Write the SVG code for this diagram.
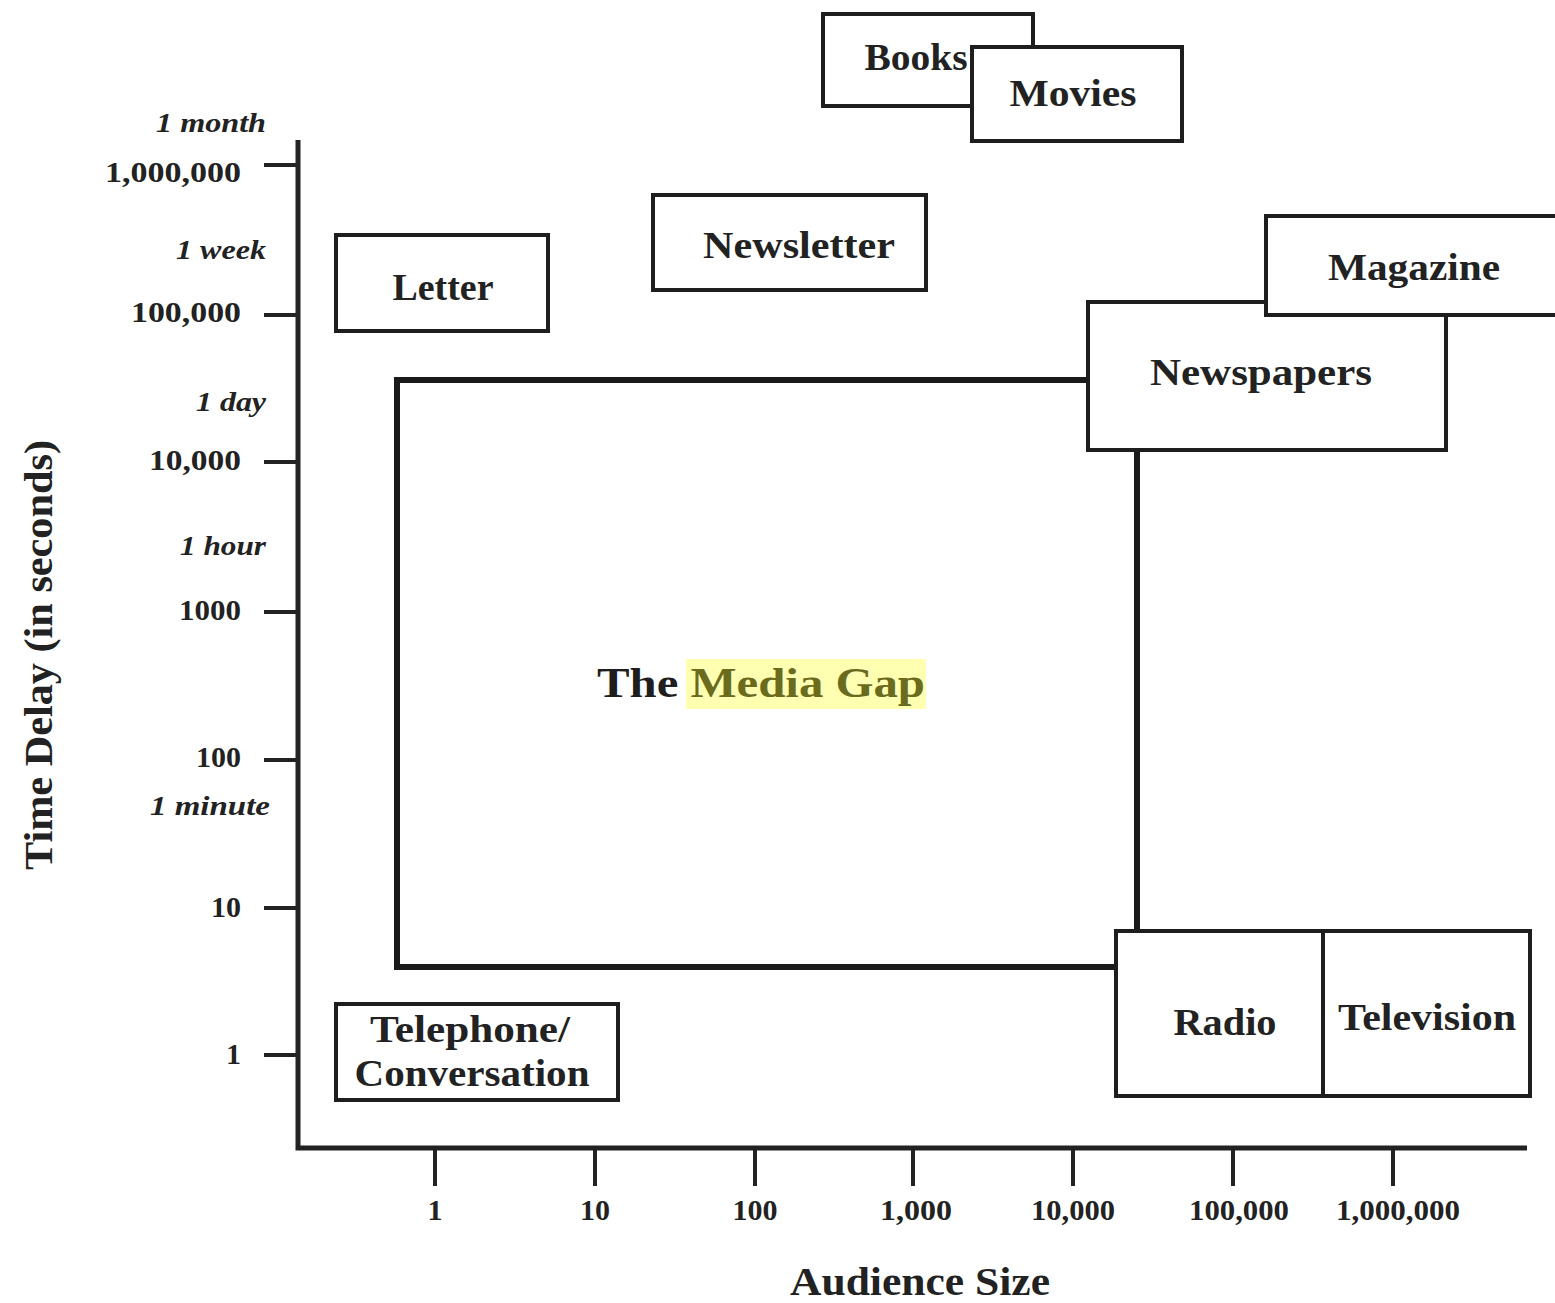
<svg xmlns="http://www.w3.org/2000/svg" width="1555" height="1303" viewBox="0 0 1555 1303">
<style>
.box{fill:#fff;stroke:#1e1e1e;stroke-width:4}
.lbl{font-family:"Liberation Serif","DejaVu Serif",serif;font-weight:bold;font-size:37px;fill:#222;text-anchor:middle}
.tick{stroke:#222;stroke-width:4}
.num{font-family:"Liberation Serif","DejaVu Serif",serif;font-weight:bold;font-size:30px;fill:#222}
.it{font-family:"Liberation Serif","DejaVu Serif",serif;font-weight:bold;font-style:italic;font-size:28px;fill:#222;text-anchor:end}
.ax{font-family:"Liberation Serif","DejaVu Serif",serif;font-weight:bold;font-size:40px;fill:#222;text-anchor:middle}
</style>
<rect width="1555" height="1303" fill="#fff"/>
<g id="axes">
<path d="M298 140 V1148 H1527" fill="none" stroke="#222" stroke-width="5"/>
<g class="tick">
<line x1="264" y1="165" x2="298" y2="165"/>
<line x1="264" y1="315" x2="298" y2="315"/>
<line x1="264" y1="462" x2="298" y2="462"/>
<line x1="264" y1="612" x2="298" y2="612"/>
<line x1="264" y1="760" x2="298" y2="760"/>
<line x1="264" y1="908" x2="298" y2="908"/>
<line x1="264" y1="1055" x2="298" y2="1055"/>
<line x1="435" y1="1148" x2="435" y2="1186"/>
<line x1="595" y1="1148" x2="595" y2="1186"/>
<line x1="755" y1="1148" x2="755" y2="1186"/>
<line x1="913" y1="1148" x2="913" y2="1186"/>
<line x1="1073" y1="1148" x2="1073" y2="1186"/>
<line x1="1233" y1="1148" x2="1233" y2="1186"/>
<line x1="1393" y1="1148" x2="1393" y2="1186"/>
</g>
<g class="num" text-anchor="end">
<text x="241" y="182" textLength="136" lengthAdjust="spacingAndGlyphs">1,000,000</text>
<text x="241" y="322" textLength="110" lengthAdjust="spacingAndGlyphs">100,000</text>
<text x="241" y="470" textLength="92" lengthAdjust="spacingAndGlyphs">10,000</text>
<text x="241" y="620" textLength="62" lengthAdjust="spacingAndGlyphs">1000</text>
<text x="241" y="767">100</text>
<text x="241" y="917">10</text>
<text x="241" y="1064">1</text>
</g>
<g class="num" text-anchor="middle">
<text x="435" y="1220">1</text>
<text x="595" y="1220">10</text>
<text x="755" y="1220">100</text>
<text x="916" y="1220" textLength="72" lengthAdjust="spacingAndGlyphs">1,000</text>
<text x="1073" y="1220" textLength="84" lengthAdjust="spacingAndGlyphs">10,000</text>
<text x="1239" y="1220" textLength="100" lengthAdjust="spacingAndGlyphs">100,000</text>
<text x="1398" y="1220" textLength="124" lengthAdjust="spacingAndGlyphs">1,000,000</text>
</g>
<g>
<text class="it" x="266" y="132" textLength="110" lengthAdjust="spacingAndGlyphs">1 month</text>
<text class="it" x="266" y="259" textLength="90" lengthAdjust="spacingAndGlyphs">1 week</text>
<text class="it" x="266" y="411" textLength="70" lengthAdjust="spacingAndGlyphs">1 day</text>
<text class="it" x="266" y="555" textLength="86" lengthAdjust="spacingAndGlyphs">1 hour</text>
<text class="it" x="270" y="815" textLength="120" lengthAdjust="spacingAndGlyphs">1 minute</text>
</g>
<text class="ax" x="920" y="1295" textLength="260" lengthAdjust="spacingAndGlyphs">Audience Size</text>
<text class="ax" transform="translate(52,655) rotate(-90)" textLength="430" lengthAdjust="spacingAndGlyphs">Time Delay (in seconds)</text>
</g>
<g id="connectors">
<path d="M1088 380 H397 V967 H1116" fill="none" stroke="#1a1a1a" stroke-width="6"/>
<line x1="1137" y1="450" x2="1137" y2="930" stroke="#1a1a1a" stroke-width="6"/>
</g>
<g id="media-gap">
<rect x="686" y="659" width="240" height="50" fill="#ffff9e" opacity="0.8"/>
<text x="761" y="697" font-family="'Liberation Serif','DejaVu Serif',serif" font-weight="bold" font-size="42" text-anchor="middle" textLength="328" lengthAdjust="spacingAndGlyphs"><tspan fill="#1e1e1e">The </tspan><tspan fill="#6b6b1e">Media Gap</tspan></text>
</g>
<g id="books"><rect class="box" x="823" y="14" width="210" height="92"/><text class="lbl" x="916" y="70" textLength="103" lengthAdjust="spacingAndGlyphs">Books</text></g>
<g id="movies"><rect class="box" x="972" y="47" width="210" height="94"/><text class="lbl" x="1073" y="106" textLength="127" lengthAdjust="spacingAndGlyphs">Movies</text></g>
<g id="newsletter"><rect class="box" x="653" y="195" width="273" height="95"/><text class="lbl" x="799" y="258" textLength="192" lengthAdjust="spacingAndGlyphs">Newsletter</text></g>
<g id="letter"><rect class="box" x="336" y="235" width="212" height="96"/><text class="lbl" x="443" y="300" textLength="101" lengthAdjust="spacingAndGlyphs">Letter</text></g>
<g id="newspapers"><rect class="box" x="1088" y="302" width="358" height="148"/><text class="lbl" x="1261" y="385" textLength="222" lengthAdjust="spacingAndGlyphs">Newspapers</text></g>
<g id="magazine"><rect class="box" x="1266" y="216" width="292" height="99"/><text class="lbl" x="1414" y="280" textLength="172" lengthAdjust="spacingAndGlyphs">Magazine</text></g>
<g id="telephone"><rect class="box" x="336" y="1004" width="282" height="96"/><text class="lbl" x="470" y="1042" textLength="200" lengthAdjust="spacingAndGlyphs">Telephone/</text><text class="lbl" x="472" y="1086" textLength="235" lengthAdjust="spacingAndGlyphs">Conversation</text></g>
<g id="radio"><rect class="box" x="1116" y="931" width="207" height="165"/><text class="lbl" x="1225" y="1035" textLength="103" lengthAdjust="spacingAndGlyphs">Radio</text></g>
<g id="television"><rect class="box" x="1323" y="931" width="207" height="165"/><text class="lbl" x="1427" y="1030" textLength="178" lengthAdjust="spacingAndGlyphs">Television</text></g>
</svg>
